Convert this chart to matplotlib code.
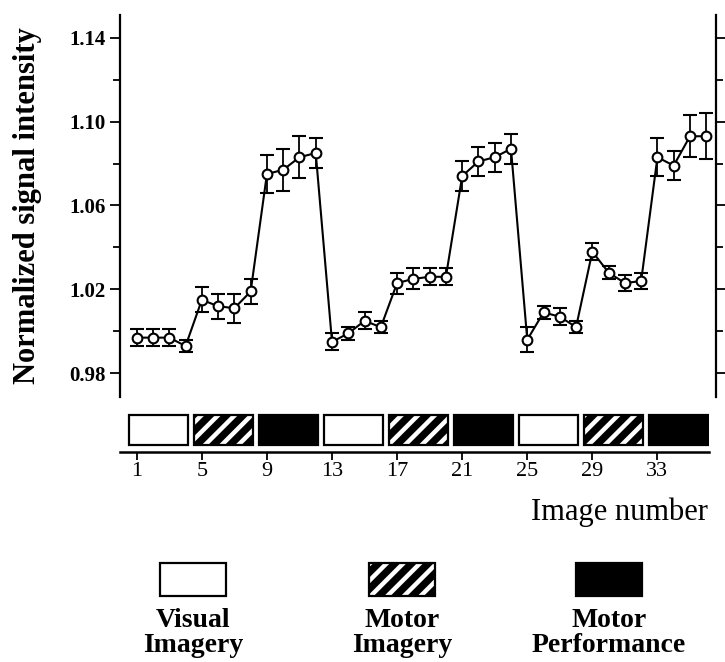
import matplotlib
matplotlib.use('Agg')
import matplotlib.pyplot as plt
from matplotlib.patches import Rectangle

plt.rcParams['font.family'] = ['Liberation Serif', 'DejaVu Serif']
plt.rcParams['hatch.linewidth'] = 3.2

image_number = list(range(1, 37))
signal = [0.997, 0.997, 0.997, 0.993,
          1.015, 1.012, 1.011, 1.019,
          1.075, 1.077, 1.083, 1.085,
          0.995, 0.999, 1.005, 1.002,
          1.023, 1.025, 1.026, 1.026,
          1.074, 1.081, 1.083, 1.087,
          0.996, 1.009, 1.007, 1.002,
          1.038, 1.028, 1.023, 1.024,
          1.083, 1.079, 1.093, 1.093]
error = [0.004, 0.004, 0.004, 0.003,
         0.006, 0.006, 0.007, 0.006,
         0.009, 0.010, 0.010, 0.007,
         0.004, 0.003, 0.004, 0.003,
         0.005, 0.005, 0.004, 0.004,
         0.007, 0.007, 0.007, 0.007,
         0.006, 0.003, 0.004, 0.003,
         0.004, 0.003, 0.004, 0.004,
         0.009, 0.007, 0.010, 0.011]

block_start = [1, 5, 9, 13, 17, 21, 25, 29, 33]
block_kind = ['visual', 'motor_img', 'motor_perf',
              'visual', 'motor_img', 'motor_perf',
              'visual', 'motor_img', 'motor_perf']
x_ticks = [1, 5, 9, 13, 17, 21, 25, 29, 33]
y_ticks = [0.98, 1.02, 1.06, 1.10, 1.14]
y_minor = [1.00, 1.04, 1.08, 1.12]

legend_kind = ['visual', 'motor_img', 'motor_perf']
legend_line1 = ['Visual', 'Motor', 'Motor']
legend_line2 = ['Imagery', 'Imagery', 'Performance']

W, H = 725, 662


def draw_block(ax, x, y, w, h, kind):
    if kind == 'visual':
        ax.add_patch(Rectangle((x, y), w, h, facecolor='white', edgecolor='black', lw=1.6))
    elif kind == 'motor_img':
        ax.add_patch(Rectangle((x, y), w, h, facecolor='black', edgecolor='white',
                               hatch='//', lw=0))
        ax.add_patch(Rectangle((x, y), w, h, fill=False, edgecolor='black', lw=1.6))
    else:
        ax.add_patch(Rectangle((x, y), w, h, facecolor='black', edgecolor='black', lw=1.6))


fig = plt.figure(figsize=(W / 100, H / 100), dpi=100)

# main signal plot
ax = fig.add_axes([120 / W, (H - 397) / H, 596 / W, 382 / H])
ax.errorbar(image_number, signal, yerr=error, fmt='-o', color='black',
            mfc='white', mec='black', ms=7, mew=1.5, lw=1.5,
            capsize=5, elinewidth=1.3, capthick=1.3)
ax.set_xlim(-0.03, 36.6)
ax.set_ylim(0.9687, 1.1508)
ax.spines['top'].set_visible(False)
ax.spines['bottom'].set_visible(False)
ax.spines['left'].set_linewidth(1.6)
ax.spines['right'].set_linewidth(1.6)
ax.set_xticks([])
ax.set_yticks(y_ticks)
ax.set_yticks(y_minor, minor=True)
ax.set_yticklabels(['%.2f' % v for v in y_ticks], fontweight='bold', fontsize=15)
ax.tick_params(axis='y', which='both', direction='out', left=True, right=True,
               labelright=False, width=1.3, pad=3)
ax.tick_params(axis='y', which='major', length=7)
ax.tick_params(axis='y', which='minor', length=5)
fig.text(28 / W, 1 - 206 / H, 'Normalized signal intensity', rotation=90,
         ha='center', va='center', fontsize=22, fontweight='bold')

# condition strip
bx = fig.add_axes([120 / W, (H - 452) / H, 589 / W, 42 / H])
bx.set_xlim(-0.03, 36.18)
bx.set_ylim(0, 1)
for s, k in zip(block_start, block_kind):
    draw_block(bx, s - 0.5, 0.167, 3.65, 0.713, k)
for side in ['top', 'left', 'right']:
    bx.spines[side].set_visible(False)
bx.spines['bottom'].set_linewidth(1.8)
bx.set_yticks([])
bx.set_xticks(x_ticks)
bx.set_xticklabels([str(t) for t in x_ticks], fontsize=16)
bx.tick_params(axis='x', direction='out', length=6, width=1.3, pad=1)
fig.text(708 / W, 1 - 512 / H, 'Image number', ha='right', va='center', fontsize=22)

# legend
lax = fig.add_axes([0, 0, 1, 1])
lax.set_xlim(0, W)
lax.set_ylim(H, 0)
lax.axis('off')
legend_x = [193, 402, 609]
for cx, k, l1, l2 in zip(legend_x, legend_kind, legend_line1, legend_line2):
    draw_block(lax, cx - 33, 563, 66, 33, k)
    lax.text(cx, 627, l1, ha='center', va='baseline', fontsize=20, fontweight='bold')
    lax.text(cx, 652, l2, ha='center', va='baseline', fontsize=20, fontweight='bold')

fig.savefig('out.png', dpi=100)
